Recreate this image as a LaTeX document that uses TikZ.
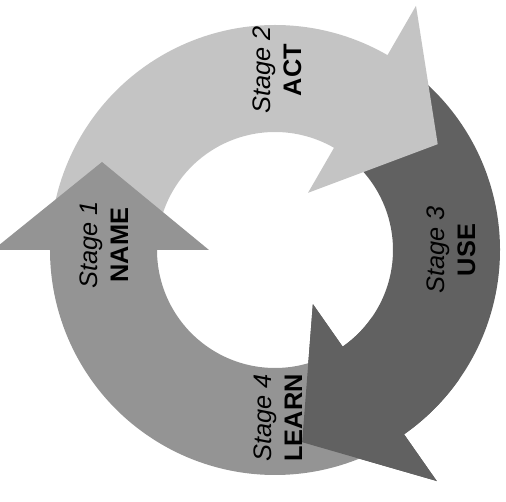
\documentclass[tikz,border=0pt]{standalone}
\usepackage{fontspec}
\setmainfont{Liberation Sans}
\usepackage{tikz}
\usetikzlibrary{
	arrows.meta,
	positioning,
	calc
}

\begin{document}
\begin{tikzpicture}[
				x=0.75pt, y=0.75pt,
				label/.style={
					rotate=90, align=center,
					font=\fontsize{19}{23}\selectfont, inner sep=1pt
				},
				lightfill/.style={fill=black!23},
				midfill/.style={fill=black!42},
				darkfill/.style={fill=black!62},
				]
				
				\useasboundingbox (-275,-252) rectangle (231,250);
				
				%arrows: tail angle / head angle / style
				\foreach \a/\b/\c in {48/-55/darkfill, 172/60/lightfill, 295/180/midfill}{
					\path[\c] (\a:225) arc[start angle=\a, end angle=\b, radius=225]
						-- (\b:282) -- ($(\b:173)+({\b-90}:88)$) -- (\b:66) -- (\b:118)
						arc[start angle=\b, end angle=\a, radius=118] -- cycle;
				}
				
				%head of stage 3 again, it lies over the tail of stage 1
				\path[darkfill] (-35:225) arc[start angle=-35, end angle=-55, radius=225]
					-- (-55:282) -- ($(-55:173)+(-145:88)$) -- (-55:66) -- (-55:118)
					arc[start angle=-55, end angle=-35, radius=118] -- cycle;
				
				%labels
				\node[label] (name) at (-171,5) {\textit{Stage 1}\\\textbf{NAME}};
				\node[label] (act) at (2,180) {\textit{Stage 2}\\\textbf{ACT}};
				\node[label] (use) at (176,0) {\textit{Stage 3}\\\textbf{USE}};
				\node[label] (learn) at (3,-168) {\textit{Stage 4}\\\textbf{LEARN}};
			\end{tikzpicture}
\end{document}
